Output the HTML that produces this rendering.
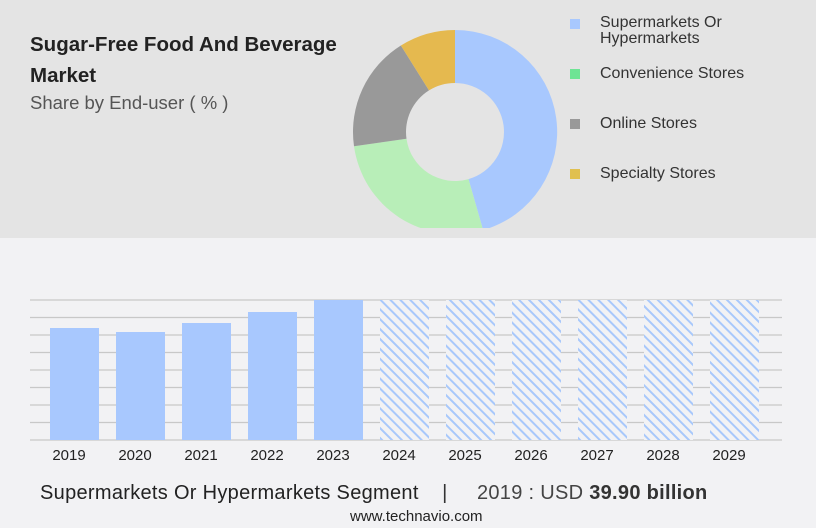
<!DOCTYPE html>
<html><head><meta charset="utf-8"><style>
body{margin:0;width:816px;height:528px;background:#f2f2f4;font-family:"Liberation Sans",sans-serif;position:relative;overflow:hidden}
.top{position:absolute;left:0;top:0;width:816px;height:238px;background:#e4e4e4}
.t{position:absolute;white-space:nowrap}
</style></head><body>
<div class="top"></div>
<div class="t" style="left:30px;top:29px;font-size:20.5px;font-weight:bold;color:#222;line-height:31px">Sugar-Free Food And Beverage<br>Market</div>
<div class="t" style="left:30px;top:92px;font-size:18.5px;color:#555">Share by End-user ( % )</div>
<svg width="816" height="528" style="position:absolute;left:0;top:0">
<defs>
<clipPath id="c"><rect x="0" y="0" width="816" height="228"/></clipPath>
<pattern id="h" width="7" height="7" patternUnits="userSpaceOnUse" patternTransform="rotate(-45)"><rect width="7" height="7" fill="#f2f2f4"/><rect width="2" height="7" fill="#a8c8fb"/></pattern>
</defs>
<g clip-path="url(#c)">
<path d="M455,30 A102,102 0 0 1 483.1,230.1 L468.5,179.1 A49,49 0 0 0 455,83 Z" fill="#a8c8fe"/>
<path d="M483.1,230.1 A102,102 0 0 1 354,146.2 L406.5,138.8 A49,49 0 0 0 468.5,179.1 Z" fill="#b8eeb8"/>
<path d="M354,146.2 A102,102 0 0 1 400.9,45.5 L429,90.4 A49,49 0 0 0 406.5,138.8 Z" fill="#999"/>
<path d="M400.9,45.5 A102,102 0 0 1 455,30 L455,83 A49,49 0 0 0 429,90.4 Z" fill="#e5b94f"/>
</g>
<rect x="570" y="19" width="10" height="10" fill="#a8c8fe"/>
<rect x="570" y="69" width="10" height="10" fill="#6ee494"/>
<rect x="570" y="119" width="10" height="10" fill="#999"/>
<rect x="570" y="169" width="10" height="10" fill="#e0c050"/>
<g stroke="#c8c8c8" stroke-width="1.3">
<line x1="30" x2="782" y1="300" y2="300"/><line x1="30" x2="782" y1="317.5" y2="317.5"/><line x1="30" x2="782" y1="335" y2="335"/><line x1="30" x2="782" y1="352.5" y2="352.5"/><line x1="30" x2="782" y1="370" y2="370"/><line x1="30" x2="782" y1="387.5" y2="387.5"/><line x1="30" x2="782" y1="405" y2="405"/><line x1="30" x2="782" y1="422.5" y2="422.5"/><line x1="30" x2="782" y1="440" y2="440"/>
</g>
<g fill="#a8c8fe">
<rect x="50" y="328" width="49" height="112"/><rect x="116" y="332" width="49" height="108"/><rect x="182" y="323" width="49" height="117"/><rect x="248" y="312" width="49" height="128"/><rect x="314" y="300" width="49" height="140"/>
</g>
<g fill="url(#h)">
<rect x="380" y="300" width="49" height="140"/><rect x="446" y="300" width="49" height="140"/><rect x="512" y="300" width="49" height="140"/><rect x="578" y="300" width="49" height="140"/><rect x="644" y="300" width="49" height="140"/><rect x="710" y="300" width="49" height="140"/>
</g>
<g font-size="15" fill="#222" text-anchor="middle" font-family="Liberation Sans,sans-serif">
<text x="69" y="460">2019</text><text x="135" y="460">2020</text><text x="201" y="460">2021</text><text x="267" y="460">2022</text><text x="333" y="460">2023</text><text x="399" y="460">2024</text><text x="465" y="460">2025</text><text x="531" y="460">2026</text><text x="597" y="460">2027</text><text x="663" y="460">2028</text><text x="729" y="460">2029</text>
</g>
</svg>
<div class="t" style="left:600px;top:15px;font-size:16px;color:#333;line-height:16px">Supermarkets Or<br>Hypermarkets</div>
<div class="t" style="left:600px;top:65px;font-size:16px;color:#333">Convenience Stores</div>
<div class="t" style="left:600px;top:115px;font-size:16px;color:#333">Online Stores</div>
<div class="t" style="left:600px;top:165px;font-size:16px;color:#333">Specialty Stores</div>
<div class="t" style="left:40px;top:482px;font-size:20px;color:#222;letter-spacing:0.3px">Supermarkets Or Hypermarkets Segment &nbsp;&nbsp; <span style="color:#333">|</span> &nbsp;&nbsp;&nbsp; <span style="color:#444">2019 : USD</span> <b style="color:#333">39.90 billion</b></div>
<div class="t" style="left:350px;top:508px;font-size:15px;color:#222">www.technavio.com</div>
</body></html>
